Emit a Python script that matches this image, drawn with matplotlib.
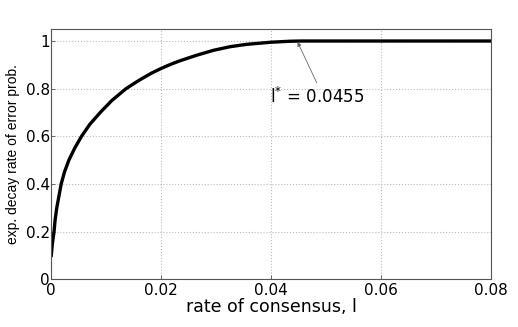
import matplotlib
matplotlib.use("Agg")
import matplotlib.pyplot as plt

# values
rate = [0.0, 0.0002, 0.0005, 0.0007, 0.001, 0.0014, 0.0018, 0.0024, 0.0032,
        0.0043, 0.0055, 0.007, 0.0089, 0.011, 0.0123, 0.0136, 0.0152,
        0.0167, 0.0183, 0.020, 0.0217, 0.0234, 0.0264, 0.0295, 0.0325,
        0.0355, 0.040, 0.0434, 0.0455, 0.08]
decay = [0.1, 0.15, 0.2, 0.25, 0.3, 0.35, 0.4, 0.45, 0.5,
         0.552, 0.6, 0.65, 0.70, 0.75, 0.775, 0.8, 0.824,
         0.845, 0.866, 0.885, 0.902, 0.917, 0.94, 0.961, 0.976,
         0.986, 0.995, 0.999, 1.0, 1.0]
l_star = 0.0455
xticks = [0, 0.02, 0.04, 0.06, 0.08]
yticks = [0, 0.2, 0.4, 0.6, 0.8, 1]

plt.rcParams['font.family'] = ['DejaVu Sans']

fig = plt.figure(figsize=(5.18, 3.27), dpi=100)
ax = fig.add_axes([0.099, 0.146, 0.849, 0.765])

ax.plot(rate, decay, color='black', lw=2.4, solid_joinstyle='round')

ax.set_xlim(0, 0.08)
ax.set_ylim(0, 1.05)
ax.set_xticks(xticks)
ax.set_xticklabels(['0', '0.02', '0.04', '0.06', '0.08'])
ax.set_yticks(yticks)
ax.set_yticklabels(['0', '0.2', '0.4', '0.6', '0.8', '1'])
ax.tick_params(direction='in', length=3, width=0.6, color='#555555',
               labelsize=11, pad=1)
ax.tick_params(axis='x', pad=3)
ax.grid(True, color='#bbbbbb', linestyle=':', linewidth=0.8)
for s in ax.spines.values():
    s.set_color('#555555')
    s.set_linewidth(0.8)

ax.set_xlabel('rate of consensus, l', fontsize=12.5)
ax.xaxis.set_label_coords(0.5, -0.075)
ax.set_ylabel('exp. decay rate of error prob.', fontsize=10,
              family=['Liberation Sans', 'DejaVu Sans'])
ax.yaxis.set_label_coords(-0.07, 0.5)

ax.annotate('', xy=(l_star - 0.0007, 0.996), xytext=(0.0483, 0.824),
            arrowprops=dict(arrowstyle='-|>', color='#666666', lw=0.6,
                            mutation_scale=6, shrinkA=0, shrinkB=0))
ax.text(0.0398, 0.765, r'l$^{*}$ = 0.0455', fontsize=12, va='center',
        ha='left')

fig.savefig('out.png', dpi=100)
